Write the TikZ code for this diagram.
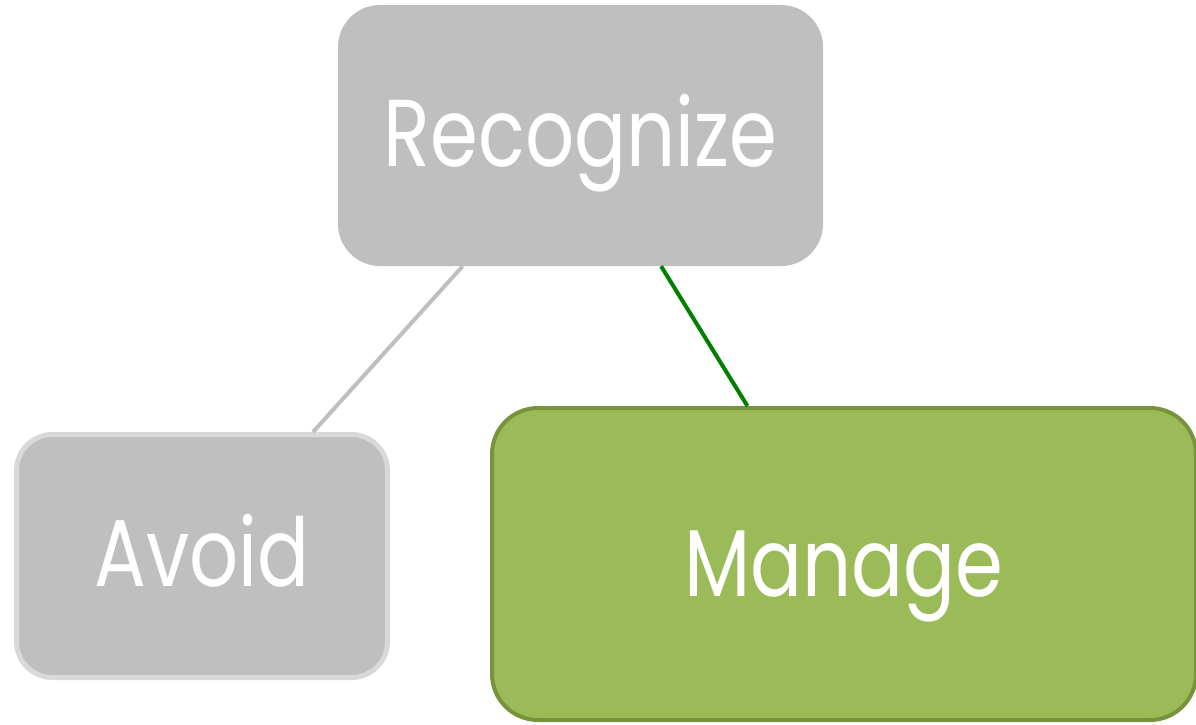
\documentclass[tikz,border=0pt]{standalone}
\usepackage{fontspec}
\setmainfont{Poppins}[FakeStretch=0.81]
\definecolor{boxgray}{HTML}{BFBFBF}
\definecolor{rimgray}{HTML}{D9D9D9}
\definecolor{leafgreen}{HTML}{9BBB59}
\definecolor{rimgreen}{HTML}{77933C}
\definecolor{linkgreen}{HTML}{008000}
\tikzset{
  stage/.style={rectangle, rounded corners=42pt, text=white, inner sep=0pt,
    font=\fontsize{95}{105}\selectfont, text height=61pt, text depth=0pt},
  link/.style={line width=4pt},
}
\begin{document}
\begin{tikzpicture}[x=1pt,y=-1pt]
\useasboundingbox (0,0) rectangle (1196,725);
\node[stage, fill=boxgray, minimum width=485pt, minimum height=261pt] (rec) at (580.5,135.5) {Recognize};
\node[stage, fill=boxgray, draw=rimgray, line width=5pt, rounded corners=36pt,
  minimum width=371pt, minimum height=243pt] (avo) at (202,556) {Avoid};
\node[stage, fill=leafgreen, draw=rimgreen, line width=4pt, rounded corners=46pt,
  minimum width=704pt, minimum height=312pt, text height=64pt] (man) at (844,564) {Manage};
\draw[link, draw=boxgray] (rec) -- (avo);
\draw[link, draw=linkgreen] (rec) -- (man);
\end{tikzpicture}
\end{document}
